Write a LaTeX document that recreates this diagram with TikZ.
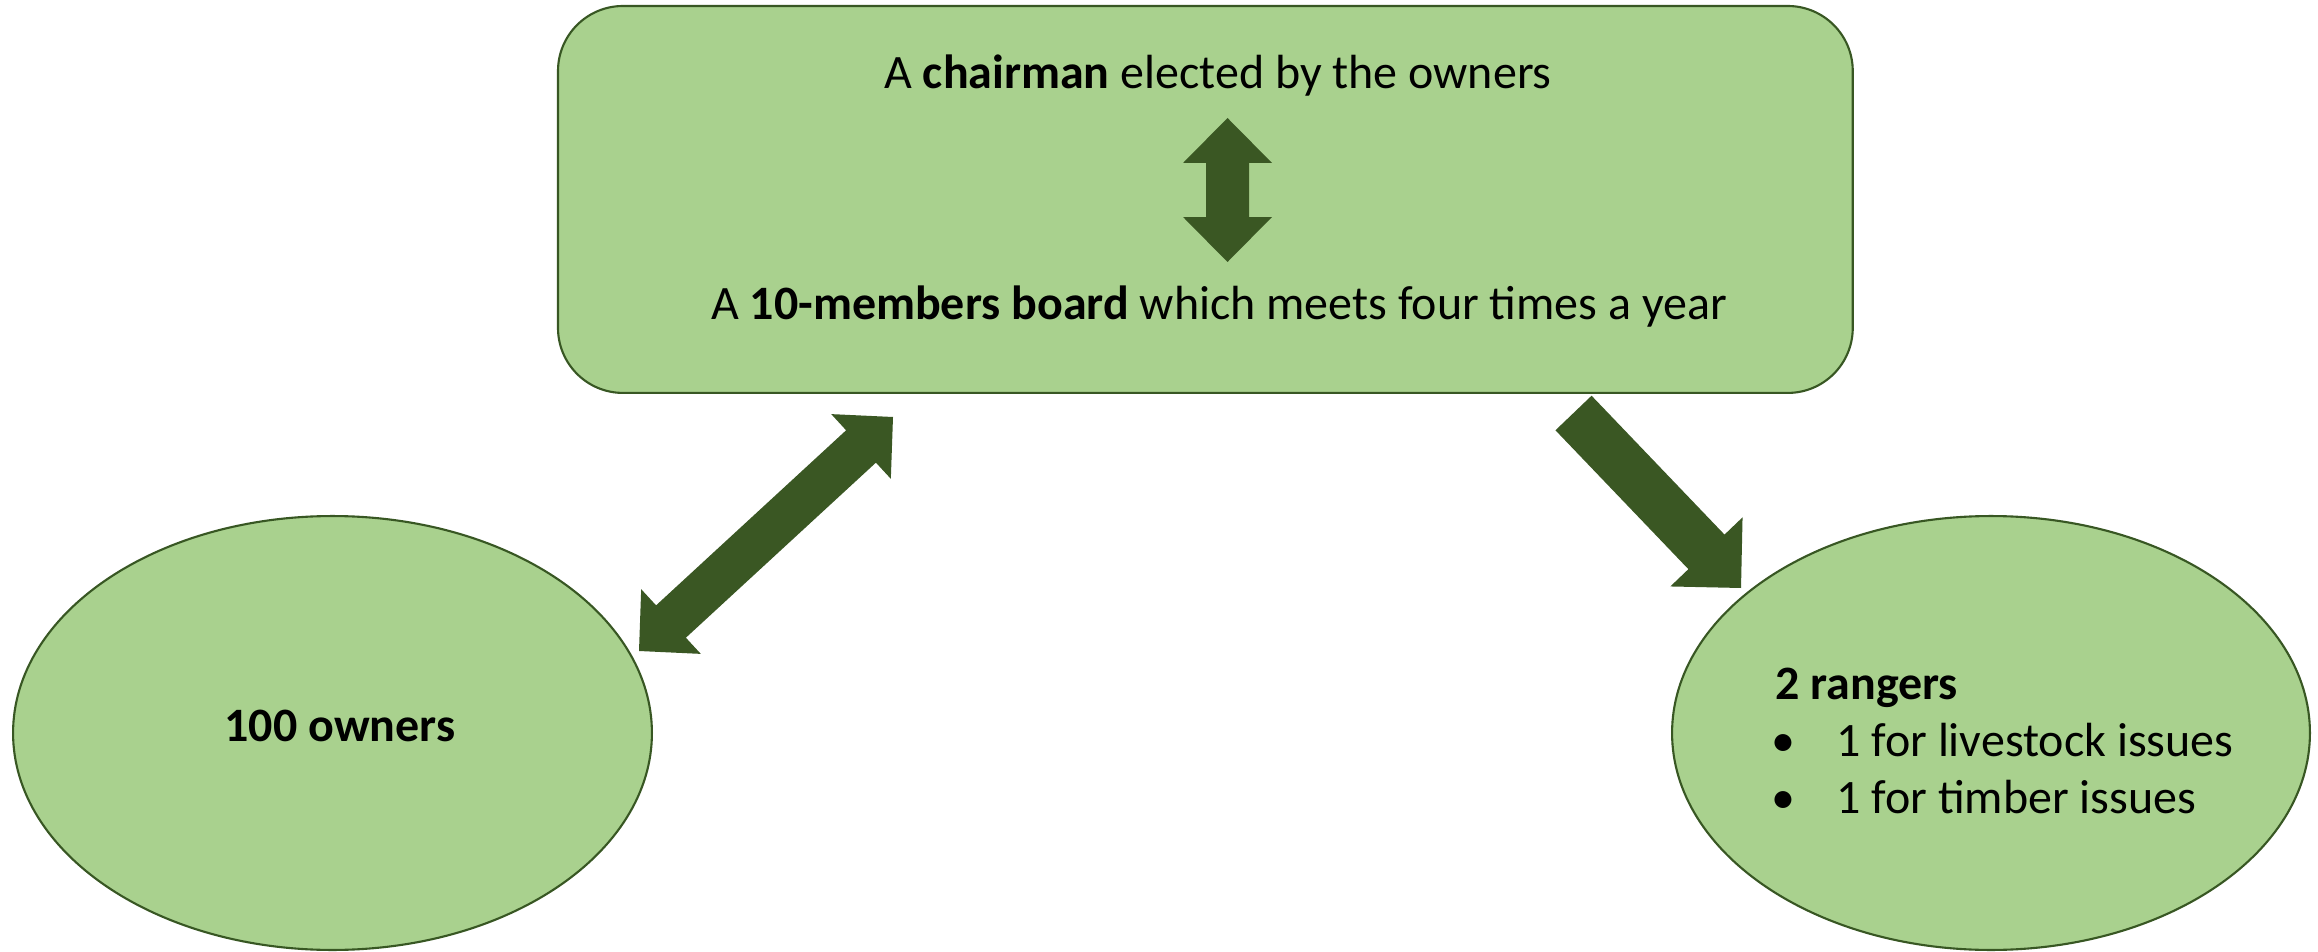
\documentclass[tikz,border=0pt]{standalone}
\usepackage{fontspec}
\setmainfont{Carlito}
\usetikzlibrary{calc,shapes.geometric}
\definecolor{shapefill}{HTML}{A9D18E}
\definecolor{shapeline}{HTML}{385723}
\definecolor{arrowcol}{HTML}{3A5723}
% #1 tip A, #2 tip B, #3 head length, #4 head half width, #5 shaft half width
\newcommand\blockdouble[5]{%
  \path ($(#1)!#3!(#2)$) coordinate (h1) ($(#2)!#3!(#1)$) coordinate (h2);
  \fill[arrowcol] (#1) -- ($(h1)!#4!90:(#2)$) -- ($(h1)!#5!90:(#2)$)
    -- ($(h2)!#5!-90:(#1)$) -- ($(h2)!#4!-90:(#1)$) -- (#2)
    -- ($(h2)!#4!90:(#1)$) -- ($(h2)!#5!90:(#1)$)
    -- ($(h1)!#5!-90:(#2)$) -- ($(h1)!#4!-90:(#2)$) -- cycle;}
% #1 tail middle, #2 tip, #3 head length, #4 head half width, #5 shaft half width
\newcommand\blocksingle[5]{%
  \path ($(#2)!#3!(#1)$) coordinate (hh);
  \fill[arrowcol] ($(#1)!#5!90:(#2)$) -- ($(hh)!#5!-90:(#1)$) -- ($(hh)!#4!-90:(#1)$)
    -- (#2) -- ($(hh)!#4!90:(#1)$) -- ($(hh)!#5!90:(#1)$)
    -- ($(#1)!#5!-90:(#2)$) -- cycle;}
\begin{document}
\begin{tikzpicture}[x=0.02cm,y=-0.02cm,
  shapebox/.style={draw=shapeline, fill=shapefill, line width=1.2pt, inner sep=0pt, outer sep=0pt},
  txt/.style={font=\fontsize{27.3pt}{32.4pt}\selectfont, inner sep=0pt, anchor=base, text=black}]
\useasboundingbox (0,0) rectangle (2318,952);
\fill[white] (0,0) rectangle (2318,952);

% board box
\node[shapebox, rounded corners=1.3cm, minimum width=25.9cm, minimum height=7.74cm,
      anchor=north west] (board) at (558,6) {};
\node[txt] (chair) at (1218,89) {A \textbf{chairman} elected by the owners};
\node[txt] (members) at (1219,320) {A \textbf{10-members board} which meets four times a year};

% ellipses
\node[shapebox, ellipse, minimum width=12.78cm, minimum height=8.68cm] (owners) at (332.5,733) {};
\node[shapebox, ellipse, minimum width=12.76cm, minimum height=8.68cm] (rangers) at (1991,733) {};
\node[txt] (ownerstxt) at (340,741) {\textbf{100 owners}};
\node[txt, anchor=base west] (rangertitle) at (1775,699) {\textbf{2 rangers}};
\node[txt] (bulletA) at (1783,756) {•};
\node[txt, anchor=base west] (livestock) at (1836,756) {1 for livestock issues};
\node[txt] (bulletB) at (1783,813) {•};
\node[txt, anchor=base west] (timber) at (1836,813) {1 for timber issues};

% arrows
\coordinate (vtop) at (1227.5,118);
\coordinate (vbot) at (1227.5,262);
\blockdouble{vtop}{vbot}{0.9cm}{0.89cm}{0.43cm}

\coordinate (ltip) at (639,651);
\coordinate (utip) at (893,417);
\blockdouble{ltip}{utip}{0.87cm}{0.88cm}{0.44cm}

\coordinate (rtail) at (1573.5,413);
\coordinate (rtip) at (1741,588);
\blocksingle{rtail}{rtip}{1.0cm}{1.0cm}{0.5cm}
\end{tikzpicture}
\end{document}
